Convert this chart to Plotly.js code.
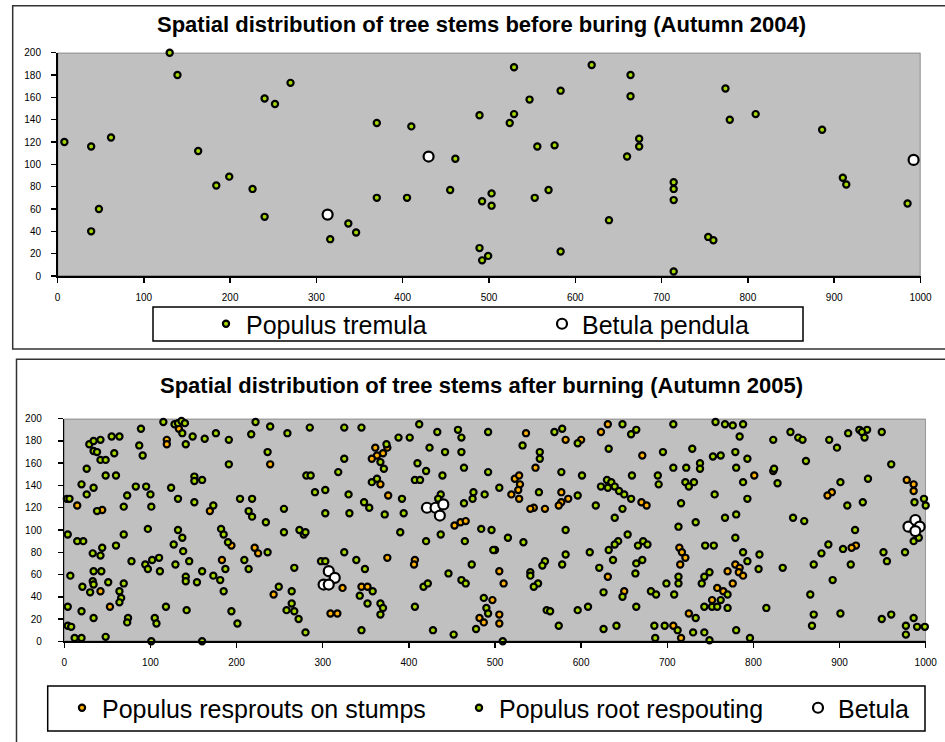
<!DOCTYPE html>
<html><head><meta charset="utf-8">
<script src="https://cdn.plot.ly/plotly-3.0.1.min.js"></script>
<style>html,body{margin:0;padding:0;background:#fff}</style>
</head><body><div id="chart" style="width:945px;height:742px"></div>
<script>
// ---------- DATA ----------
const titleTop = 'Spatial distribution of tree stems before buring (Autumn 2004)';
const titleBottom = 'Spatial distribution of tree stems after burning (Autumn 2005)';
const xTicks = [0,100,200,300,400,500,600,700,800,900,1000];
const yTicks = [0,20,40,60,80,100,120,140,160,180,200];

// Autumn 2004 (before burning)
const populusTremula = [[8,120],[39,116],[62,124],[39,40],[48,60],[130,200],[139,180],[163,112],[184,81],[199,89],[226,78],[240,159],[252,154],[270,173],[240,53],[316,33],[337,47],[346,39],[370,137],[370,70],[410,134],[405,70],[455,77],[461,105],[489,144],[489,25],[529,187],[619,189],[664,180],[583,166],[547,158],[664,161],[774,168],[529,145],[524,137],[779,140],[809,145],[886,131],[674,123],[674,116],[556,116],[576,117],[660,107],[714,84],[714,78],[714,68],[910,88],[914,82],[985,65],[503,74],[492,67],[503,63],[553,70],[569,77],[639,50],[754,35],[760,32],[499,18],[492,14],[583,22],[714,4]];
const betulaPendula = [[313,55],[430,107],[992,104]];

// Autumn 2005 (after burning)
const resproutsStumps = [[119,181],[119,177],[133,191],[15,122],[44,118],[42,45],[53,31],[169,117],[183,73],[194,86],[221,84],[225,79],[243,42],[239,159],
[361,174],[375,174],[370,169],[363,167],[357,164],[367,141],[376,131],[453,104],[460,107],[466,108],[375,75],[407,73],[406,69],[323,48],[345,49],[352,49],[309,25],[317,25],[497,37],[482,21],[487,17],
[536,187],[582,181],[600,181],[631,195],[623,188],[671,167],[547,156],[523,146],[528,149],[529,141],[527,136],[519,132],[528,128],[577,134],[585,128],[577,125],[574,122],[558,119],[545,120],[541,119],[670,125],[676,122],[500,82],[505,63],[510,52],[631,58],[650,45],[714,84],[717,80],[721,75],[715,69],[505,24],[505,16],[707,14],[716,3],[725,25],[752,37],
[801,149],[823,153],[891,134],[886,131],[978,145],[986,141],[986,135],[919,86],[914,84],[779,69],[784,66],[783,62],[788,59],[770,63],[776,52],[758,48],[765,45]];

const rootRespouting = [[115,197],[89,191],[128,195],[132,196],[136,198],[140,196],[137,187],[149,184],[163,182],[176,187],[222,197],[239,193],[217,186],
[29,177],[34,180],[42,181],[55,184],[64,184],[87,176],[91,167],[141,177],[191,181],[236,170],
[34,171],[38,170],[42,163],[48,163],[58,169],[26,155],[48,149],[60,149],[20,141],[34,138],[26,132],[3,128],[6,128],[38,117],[69,121],[73,131],[83,139],[95,139],[100,132],[101,121],[97,101],[69,96],[60,86],[33,79],[42,77],[44,84],[22,90],[15,90],[4,96],[7,59],[34,63],[43,63],[33,54],[34,51],[30,44],[21,49],[51,53],[64,45],[66,39],[64,35],[69,52],[4,31],[20,27],[34,21],[74,21],[73,17],[4,14],[8,13],[12,3],[20,3],[48,4],[101,0],[78,72],[94,69],[97,65],[102,73],[110,75],[111,63],[105,21],[107,16],[118,31],[142,28],[129,69],[127,87],[132,100],[137,93],[138,81],[145,72],[141,58],[141,54],[154,53],[160,63],[160,0],[124,138],[132,128],[151,125],[151,148],[151,144],[160,145],[173,122],[191,159],[204,128],[218,128],[214,117],[218,112],[234,107],[182,101],[185,96],[190,89],[187,65],[173,59],[181,55],[185,45],[194,27],[201,16],[209,73],[214,65],[236,80],[249,49],
[259,187],[285,192],[325,192],[345,192],[412,195],[388,183],[401,183],[433,188],[457,190],[461,183],[492,188],[325,164],[374,177],[367,161],[371,155],[424,174],[442,170],[461,170],[410,160],[420,153],[464,156],[492,152],[281,149],[286,149],[318,152],[357,143],[363,146],[407,145],[413,145],[439,149],[291,134],[303,136],[330,132],[392,128],[348,125],[354,120],[372,114],[394,115],[255,119],[303,115],[331,115],[255,98],[273,100],[278,96],[280,98],[390,98],[420,90],[437,96],[465,90],[484,101],[496,100],[475,134],[474,128],[488,132],[464,124],[437,132],[434,128],[325,80],[267,66],[339,73],[349,65],[298,72],[303,72],[264,45],[358,45],[343,41],[352,34],[367,34],[370,30],[367,24],[264,34],[258,28],[267,27],[272,20],[280,8],[345,10],[407,31],[417,49],[422,52],[446,61],[461,55],[466,52],[473,69],[498,82],[428,10],[452,6],[478,11],[487,39],[490,30],[492,25],
[532,176],[569,188],[578,191],[596,178],[648,195],[658,186],[664,190],[707,195],[632,173],[695,170],[729,173],[753,166],[552,170],[552,164],[505,138],[551,134],[577,152],[601,149],[596,131],[617,122],[630,145],[635,143],[639,139],[623,139],[631,138],[644,135],[650,132],[658,128],[659,149],[689,149],[690,141],[648,119],[639,111],[707,156],[722,156],[738,160],[738,155],[721,143],[725,139],[731,143],[755,132],[716,124],[713,103],[733,107],[515,93],[533,89],[582,100],[654,96],[643,90],[639,87],[632,82],[666,86],[672,90],[677,87],[637,73],[671,73],[664,70],[663,61],[582,78],[578,69],[610,80],[558,72],[555,68],[541,62],[541,59],[550,52],[545,49],[621,66],[626,44],[648,40],[681,45],[687,42],[664,31],[699,52],[708,42],[713,58],[713,52],[743,58],[749,62],[740,52],[509,0],[560,28],[564,27],[596,28],[608,31],[574,14],[626,11],[641,14],[685,14],[686,3],[697,14],[712,10],[733,21],[730,8],[743,8],[749,1],[743,31],[752,31],[744,86],
[756,197],[767,195],[776,194],[788,195],[784,184],[823,181],[843,188],[852,183],[857,181],[888,181],[897,174],[910,187],[923,190],[929,183],[932,190],[926,188],[949,188],[960,159],[762,167],[779,170],[793,164],[780,156],[824,155],[828,142],[788,143],[793,128],[861,162],[901,143],[933,146],[927,125],[909,122],[987,125],[998,128],[1000,122],[986,90],[992,93],[976,80],[951,80],[955,72],[918,100],[904,83],[913,69],[887,87],[879,79],[870,69],[892,55],[866,42],[870,24],[868,14],[901,25],[949,20],[960,24],[977,14],[977,6],[986,21],[990,13],[999,13],[846,111],[859,108],[767,111],[780,114],[779,93],[754,86],[788,80],[807,78],[793,72],[806,65],[834,66],[770,42],[762,37],[758,31],[770,30],[815,30],[780,10],[796,3]];

const betula2005 = [[421,120],[431,120],[440,123],[436,113],[307,63],[314,57],[301,51],[307,51],[980,103],[988,109],[993,103],[988,99]];

const legendNames = ['Populus tremula','Betula pendula','Populus resprouts on stumps','Populus root respouting','Betula'];

// ---------- CHART ----------
const W = 945, H = 742;
const px = v => v / W, py = v => (H - v) / H;
const xs = a => a.map(p => p[0]), ys = a => a.map(p => p[1]);
const FONT = 'Liberation Sans, Arial, sans-serif';
const GREEN = '#A4D600', ORANGE = '#FFB000';

function pts(data, fill, size, xa, ya, name, leg) {
  return {type:'scatter', mode:'markers', x: xs(data), y: ys(data), xaxis: xa, yaxis: ya,
    name: name, legend: leg, cliponaxis: false, hoverinfo:'skip',
    marker:{symbol:'circle', size: size, color: fill, line:{color:'#000', width:2.2}}};
}

const traces = [
  pts(populusTremula, GREEN, 6.2, 'x', 'y', legendNames[0], 'legend'),
  pts(betulaPendula, '#fff', 10, 'x', 'y', legendNames[1], 'legend2'),
  pts(resproutsStumps, ORANGE, 6.2, 'x2', 'y2', legendNames[2], 'legend3'),
  pts(rootRespouting, GREEN, 6.2, 'x2', 'y2', legendNames[3], 'legend4'),
  pts(betula2005, '#fff', 10, 'x2', 'y2', legendNames[4], 'legend5')
];

function xax(domain, anchor, standoff) {
  return {domain: domain, anchor: anchor, range:[0,1000], tickvals: xTicks, ticktext: xTicks.map(String),
    showgrid:false, zeroline:false, showline:true, linecolor:'#000', linewidth:1.5,
    ticks:'outside', ticklen:5, tickwidth:1.5, tickcolor:'#000', ticklabelstandoff: standoff,
    tickfont:{family:FONT, size:10, color:'#000'}, fixedrange:true};
}
function yax(domain, anchor, standoff) {
  return {domain: domain, anchor: anchor, range:[0,200], tickvals: yTicks, ticktext: yTicks.map(String),
    showgrid:false, zeroline:false, showline:true, linecolor:'#000', linewidth:1.5,
    ticks:'outside', ticklen:5, tickwidth:1.5, tickcolor:'#000', ticklabelstandoff: standoff,
    tickfont:{family:FONT, size:10, color:'#000'}, fixedrange:true};
}
function leg(xc, yc) {
  return {x: px(xc - 20), y: py(yc), xanchor:'left', yanchor:'middle', orientation:'h',
    bgcolor:'rgba(0,0,0,0)', borderwidth:0, font:{family:FONT, size:25, color:'#000'}};
}

const layout = {
  width: W, height: H, autosize:false, margin:{l:0,r:0,t:0,b:0},
  paper_bgcolor:'#fff', plot_bgcolor:'#C0C0C0', showlegend:true, hovermode:false,
  xaxis: xax([px(57.5), px(920.5)], 'y', 6),
  yaxis: yax([py(276), py(52.7)], 'x', 8),
  xaxis2: xax([px(64.3), px(925.7)], 'y2', 6),
  yaxis2: yax([py(641.3), py(418.7)], 'x2', 14),
  legend: leg(226, 324), legend2: leg(562, 324),
  legend3: leg(82, 708), legend4: leg(479, 708), legend5: leg(818, 708),
  annotations: [
    {text: titleTop, xref:'paper', yref:'paper', x: px(481), y: py(25), xanchor:'center', yanchor:'middle', showarrow:false,
      font:{family:FONT, size:22, color:'#000', weight:'bold'}},
    {text: titleBottom, xref:'paper', yref:'paper', x: px(481), y: py(385), xanchor:'center', yanchor:'middle', showarrow:false,
      font:{family:FONT, size:22, color:'#000', weight:'bold'}}
  ],
  shapes: [
    {type:'rect', xref:'paper', yref:'paper', x0: px(12.7), x1: 1.02, y0: py(349), y1: py(5.7), line:{color:'#333', width:1.5}, layer:'below'},
    {type:'rect', xref:'paper', yref:'paper', x0: px(16.5), x1: 1.02, y0: -0.02, y1: py(359.3), line:{color:'#333', width:1.5}, layer:'below'},
    {type:'rect', xref:'x', yref:'y', x0:0, x1:1000, y0:0, y1:200, line:{color:'#808080', width:1.5}, layer:'below'},
    {type:'rect', xref:'x2', yref:'y2', x0:0, x1:1000, y0:0, y1:200, line:{color:'#808080', width:1.5}, layer:'below'},
    {type:'rect', xref:'paper', yref:'paper', x0: px(153), x1: px(803), y0: py(341), y1: py(307), line:{color:'#000', width:1.5}},
    {type:'rect', xref:'paper', yref:'paper', x0: px(47.7), x1: px(925), y0: py(731), y1: py(686), line:{color:'#000', width:1.5}}
  ]
};

Plotly.newPlot('chart', traces, layout, {displayModeBar:false, staticPlot:true});
</script></body></html>
